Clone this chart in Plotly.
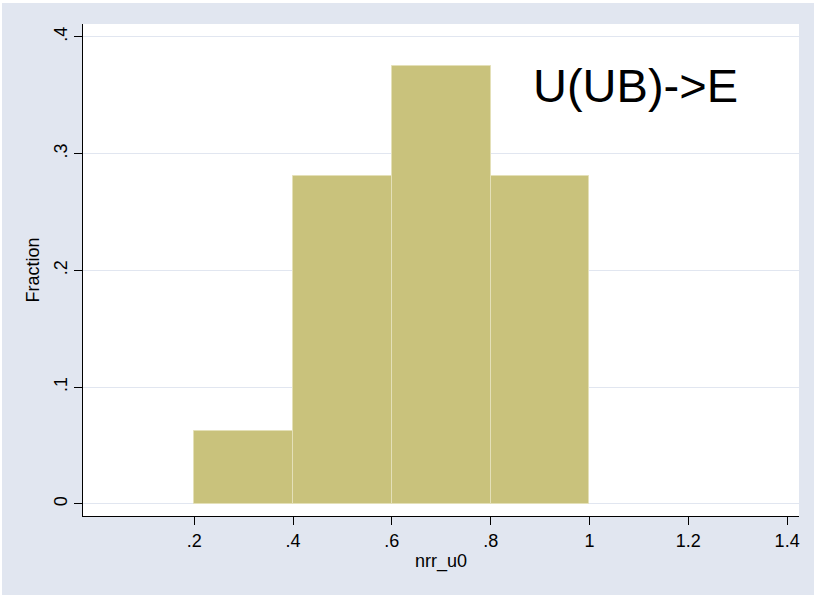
import plotly.graph_objects as go

bin_left = [0.2, 0.4, 0.6, 0.8]
bin_width = 0.2
fraction = [0.0625, 0.28125, 0.375, 0.28125]

x_tickvals = [0.2, 0.4, 0.6, 0.8, 1.0, 1.2, 1.4]
x_ticktext = [".2", ".4", ".6", ".8", "1", "1.2", "1.4"]
y_tickvals = [0, 0.1, 0.2, 0.3, 0.4]
y_ticktext = ["0", ".1", ".2", ".3", ".4"]

BG = "#E1E6F0"
FONT = "Liberation Sans, Arial, sans-serif"

fig = go.Figure()
fig.add_trace(go.Bar(
    x=[b + bin_width / 2 for b in bin_left],
    y=fraction,
    width=[bin_width] * len(bin_left),
    marker=dict(color="#C9C27C", line=dict(color="#E4E0B8", width=1)),
    showlegend=False,
))

fig.add_annotation(
    x=0.771, y=0.874, xref="paper", yref="paper",
    text="U(UB)->E", showarrow=False,
    font=dict(family=FONT, size=47, color="black"),
    xanchor="center", yanchor="middle",
)

# thin white border at top and left of the figure
fig.add_shape(type="rect", xref="paper", yref="paper",
              x0=-83/716, x1=(814-83)/716, y0=1+21/492, y1=1+24/492,
              fillcolor="white", line=dict(width=0), layer="below")
fig.add_shape(type="rect", xref="paper", yref="paper",
              x0=-83/716, x1=-81/716, y0=-79/492, y1=1+24/492,
              fillcolor="white", line=dict(width=0), layer="below")

fig.update_layout(
    width=814, height=595,
    margin=dict(l=83, r=15, t=24, b=79),
    paper_bgcolor=BG, plot_bgcolor="white",
    font=dict(family=FONT, size=18, color="black"),
    bargap=0,
    xaxis=dict(
        range=[-0.025, 1.424],
        tickvals=x_tickvals, ticktext=x_ticktext,
        showgrid=False, zeroline=False,
        showline=True, linecolor="black", linewidth=1,
        ticks="outside", ticklen=8, tickcolor="black", tickwidth=1,
        title=dict(text="nrr_u0", font=dict(size=18), standoff=4),
        tickfont=dict(size=18),
    ),
    yaxis=dict(
        range=[-0.0103, 0.411],
        tickvals=y_tickvals, ticktext=y_ticktext,
        tickangle=-90,
        showgrid=True, gridcolor=BG, gridwidth=1, zeroline=False,
        showline=True, linecolor="black", linewidth=1,
        ticks="outside", ticklen=8, tickcolor="black", tickwidth=1,
        title=dict(text="Fraction", font=dict(size=18), standoff=6),
        tickfont=dict(size=18),
    ),
)

fig.write_html("out.html")
